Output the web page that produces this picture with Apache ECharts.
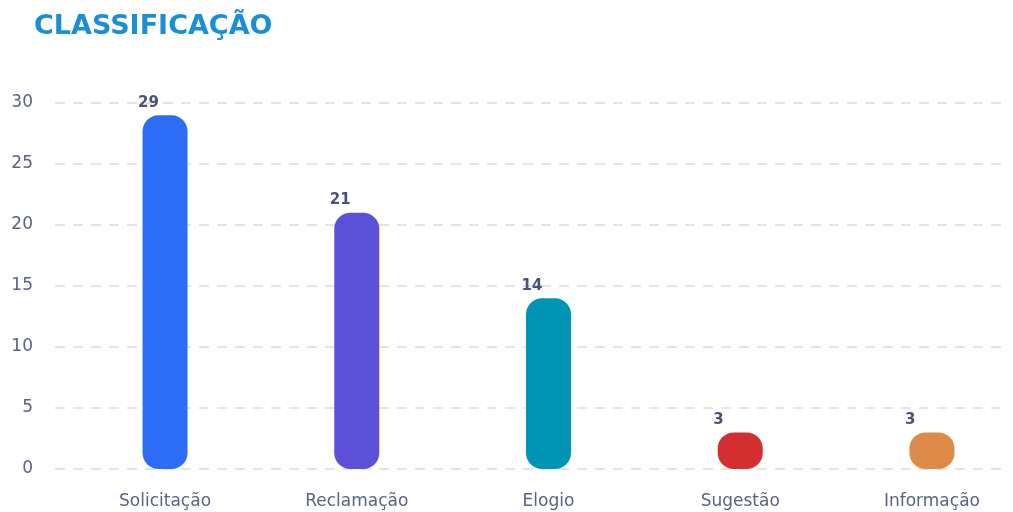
<!DOCTYPE html>
<html>
<head>
<meta charset="utf-8">
<style>
  html, body { margin: 0; padding: 0; background: #ffffff; }
  #chart { width: 1013px; height: 512px; }
</style>
<script src="https://cdn.jsdelivr.net/npm/echarts@6/dist/echarts.min.js"></script>
</head>
<body>
<div id="chart"></div>
<script>
// Atendimentos por classificação
const categories = ['Solicitação', 'Reclamação', 'Elogio', 'Sugestão', 'Informação'];
const values = [29, 21, 14, 3, 3];
const barColors = ['#2d6df6', '#5d50d8', '#0095b6', '#d42f30', '#de8a48'];
const yTicks = [0, 5, 10, 15, 20, 25, 30];

const chart = echarts.init(document.getElementById('chart'), null, { renderer: 'canvas' });

const tickColor = '#5b6283';
const positions = categories.map((_, i) => i);

chart.setOption({
  animation: false,
  title: {
    text: 'CLASSIFICAÇÃO',
    left: 29,
    top: 8,
    textStyle: {
      fontFamily: 'DejaVu Sans',
      fontWeight: 'bold',
      fontSize: 27,
      color: '#1b8fd3'
    }
  },
  grid: { left: 55, width: 950, top: 103, bottom: 43, containLabel: false },
  xAxis: {
    // categories sit at integer positions; the plot is padded asymmetrically
    type: 'value',
    min: -0.574,
    max: 4.381,
    splitLine: { show: false },
    axisLine: { show: false },
    axisTick: { show: false },
    axisLabel: {
      customValues: positions,
      formatter: (v) => categories[Math.round(v)] || '',
      color: tickColor,
      fontFamily: 'DejaVu Sans',
      fontSize: 17,
      margin: 24
    }
  },
  yAxis: {
    type: 'value',
    min: yTicks[0],
    max: yTicks[yTicks.length - 1],
    interval: yTicks[1] - yTicks[0],
    axisLine: { show: false },
    axisTick: { show: false },
    axisLabel: {
      color: tickColor,
      fontFamily: 'DejaVu Sans',
      fontSize: 17,
      margin: 22,
      padding: [2, 0, 0, 0]
    },
    splitLine: {
      lineStyle: { color: '#dcdcdc', type: [10, 8], width: 1.5 }
    }
  },
  series: [
    {
      type: 'bar',
      barWidth: 45,
      data: values.map((v, i) => ({
        value: [positions[i], v],
        itemStyle: { color: barColors[i] }
      })),
      itemStyle: { borderRadius: 16 },
      label: {
        show: true,
        position: 'top',
        align: 'left',
        offset: [-27, 0],
        distance: 5,
        formatter: (p) => String(p.value[1]),
        color: '#4b5277',
        fontFamily: 'DejaVu Sans',
        fontWeight: 'bold',
        fontSize: 15
      }
    }
  ]
});
</script>
</body>
</html>
